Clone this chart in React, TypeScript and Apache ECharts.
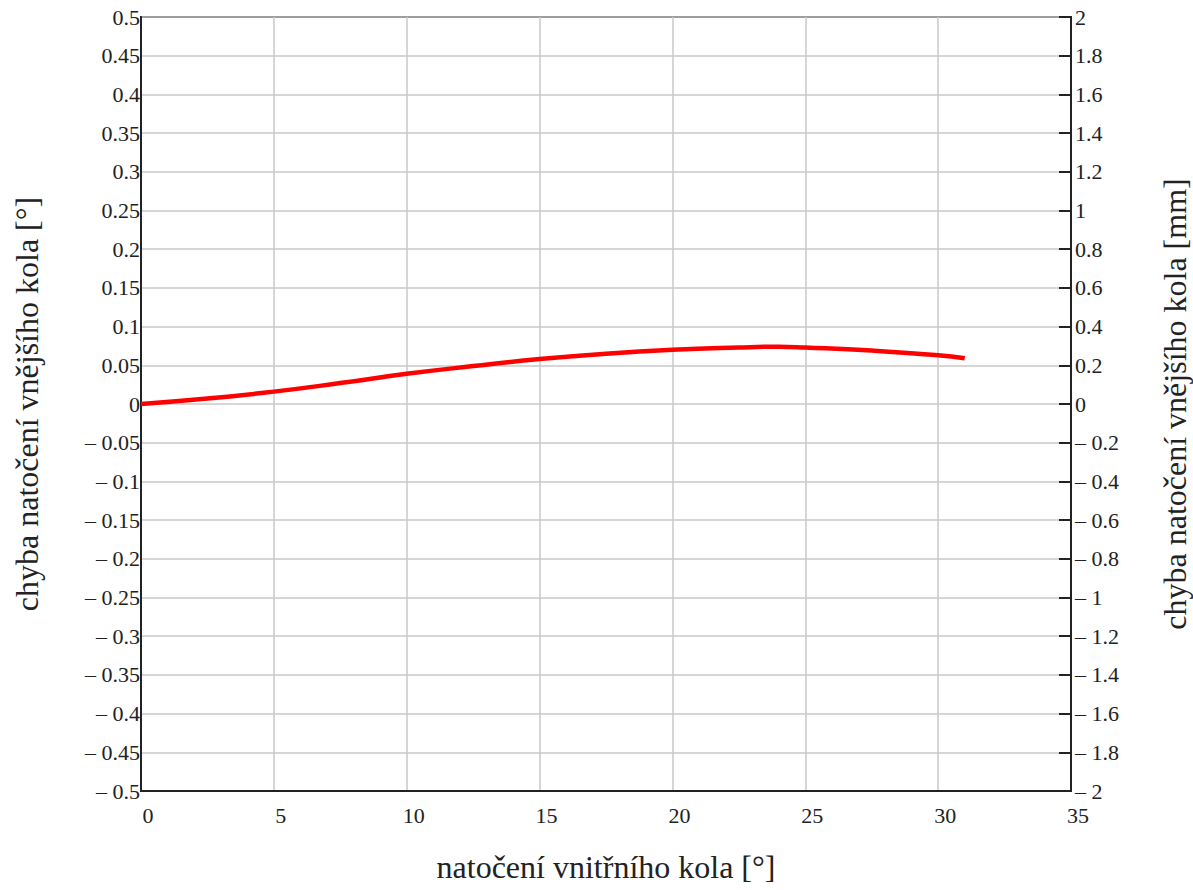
import React, { useEffect, useRef } from "react";
import * as echarts from "echarts";

// inner wheel steering angle [°]
const innerAngle = [0, 2.5, 5, 7.5, 10, 12.5, 15, 17.5, 20, 22.5, 24, 25, 27.5, 30, 31];
// outer wheel steering error [°]
const outerError = [0, 0.007, 0.016, 0.027, 0.039, 0.049, 0.058, 0.065, 0.07, 0.073, 0.074, 0.073, 0.069, 0.063, 0.059];

const FONT = "'Liberation Serif', 'Times New Roman', serif";

function fmt(v: number): string {
  const r = Number(v.toFixed(3));
  if (r < 0) return "\u2013 " + String(-r);
  return String(r);
}

export default function App() {
  const ref = useRef<HTMLDivElement>(null);

  useEffect(() => {
    if (!ref.current) return;
    const chart = echarts.init(ref.current, undefined, { renderer: "svg" });
    chart.setOption({
      animation: false,
      backgroundColor: "#ffffff",
      textStyle: { fontFamily: FONT },
      grid: {
        left: 141,
        top: 17,
        right: 122,
        bottom: 99,
        outerBoundsMode: "none",
        containLabel: false,
        show: true,
        borderColor: "#222",
        borderWidth: 2,
      },
      xAxis: {
        type: "value",
        min: 0,
        max: 35,
        interval: 5,
        name: "natočení vnitřního kola [°]",
        nameLocation: "middle",
        nameGap: 60,
        nameTextStyle: { fontFamily: FONT, fontSize: 32, color: "#222" },
        axisLine: { show: true, onZero: false, lineStyle: { color: "#222", width: 2 } },
        axisTick: { show: false },
        axisLabel: {
          fontFamily: FONT,
          fontSize: 22,
          color: "#222",
          margin: 13,
          padding: [0, 0, 0, 14],
        },
        splitLine: { show: true, lineStyle: { color: "#c8c8c8", width: 1.5 } },
      },
      yAxis: [
        {
          type: "value",
          position: "left",
          min: -0.5,
          max: 0.5,
          interval: 0.05,
          name: "chyba natočení vnějšího kola [°]",
          nameLocation: "middle",
          nameRotate: 90,
          nameGap: 98,
          nameTextStyle: { fontFamily: FONT, fontSize: 32, color: "#222" },
          axisLine: { show: true, onZero: false, lineStyle: { color: "#222", width: 2 } },
          axisTick: { show: false },
          axisLabel: {
            fontFamily: FONT,
            fontSize: 22,
            color: "#222",
            margin: 1,
            padding: [10, 0, 0, 0],
            formatter: (v: number) => fmt(v),
          },
          splitLine: { show: true, lineStyle: { color: "#c8c8c8", width: 1.5 } },
        },
        {
          type: "value",
          position: "right",
          min: -2,
          max: 2,
          interval: 0.2,
          name: "chyba natočení vnějšího kola [mm]",
          nameLocation: "middle",
          nameRotate: 90,
          nameGap: 88,
          nameTextStyle: { fontFamily: FONT, fontSize: 32, color: "#222", verticalAlign: "top" },
          axisLine: { show: true, onZero: false, lineStyle: { color: "#222", width: 2 } },
          axisTick: { show: true, inside: true, length: 12, lineStyle: { color: "#222", width: 2 } },
          axisLabel: {
            fontFamily: FONT,
            fontSize: 22,
            color: "#222",
            margin: 4,
            padding: [10, 0, 0, 0],
            formatter: (v: number) => fmt(v),
          },
          splitLine: { show: false },
        },
      ],
      series: [
        {
          type: "line",
          yAxisIndex: 0,
          data: innerAngle.map((x, i) => [x, outerError[i]]),
          smooth: true,
          showSymbol: false,
          symbol: "none",
          lineStyle: { color: "#ff0000", width: 4.5 },
        },
      ],
    });
    return () => chart.dispose();
  }, []);

  return (
    <div
      ref={ref}
      style={{ position: "fixed", left: 0, top: 0, width: 1193, height: 890, background: "#fff" }}
    />
  );
}
